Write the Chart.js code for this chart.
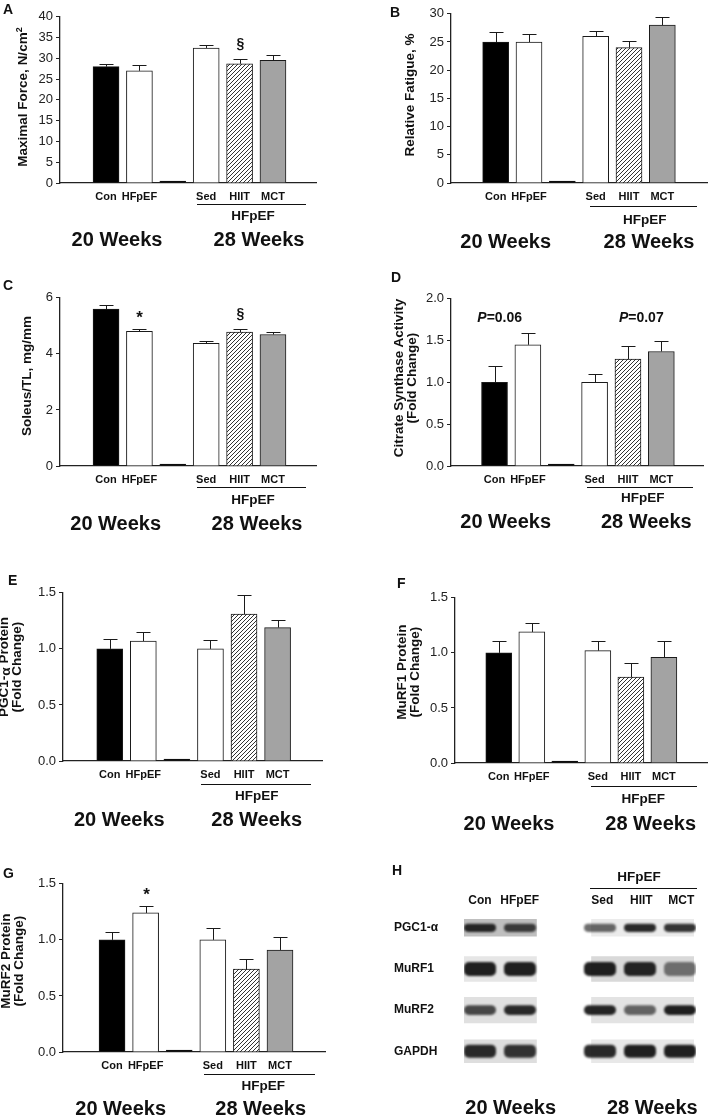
<!DOCTYPE html>
<html>
<head>
<meta charset="utf-8">
<script src="https://cdn.jsdelivr.net/npm/chart.js@4.4.1/dist/chart.umd.min.js"></script>
<style>
  html, body { margin: 0; background: #fff; }
  body { width: 709px; height: 1115px; position: relative; overflow: hidden;
         font-family: "Liberation Sans", Arial, sans-serif; color: #111; }
  canvas { position: absolute; }
  .t { position: absolute; white-space: nowrap; font-weight: bold; line-height: 1;
       transform: translate(-50%, -50%); }
  .ytitle { position: absolute; white-space: nowrap; font-weight: bold; font-size: 13.5px;
            line-height: 13px; text-align: center;
            transform: translate(-50%, -50%) rotate(-90deg); }
  .ytitle sup { font-size: 9px; line-height: 0; vertical-align: 5px; }
  .letter { position: absolute; font-weight: bold; font-size: 14px; line-height: 1; }
  .rule { position: absolute; height: 0; border-top: 1.5px solid #111; }
</style>
</head>
<body>
<script>
// ---- data ----
const groups = ['Con', 'HFpEF', '', 'Sed', 'HIIT', 'MCT'];

const forceMean = [28.0, 27.0, 0, 32.5, 28.7, 29.5];
const forceErr  = [0.6, 1.3, 0, 0.8, 1.1, 1.3];
const forceMarks = ['', '', '', '', '§', ''];
const forceTicks = [0, 5, 10, 15, 20, 25, 30, 35, 40];

const fatigueMean = [25.0, 25.0, 0, 26.0, 24.0, 28.0];
const fatigueErr  = [1.8, 1.5, 0, 1.0, 1.1, 1.4];
const fatigueTicks = [0, 5, 10, 15, 20, 25, 30];

const soleusMean = [5.60, 4.80, 0, 4.38, 4.78, 4.69];
const soleusErr  = [0.13, 0.09, 0, 0.09, 0.11, 0.09];
const soleusMarks = ['', '*', '', '', '§', ''];
const soleusTicks = [0, 2, 4, 6];

const csMean = [1.00, 1.45, 0, 1.00, 1.28, 1.37];
const csErr  = [0.20, 0.14, 0, 0.10, 0.15, 0.12];
const csTicks = [0, 0.5, 1.0, 1.5, 2.0];

const pgcMean = [1.00, 1.07, 0, 1.00, 1.31, 1.19];
const pgcErr  = [0.09, 0.08, 0, 0.08, 0.17, 0.07];

const murf1Mean = [1.00, 1.19, 0, 1.02, 0.78, 0.96];
const murf1Err  = [0.11, 0.08, 0, 0.09, 0.13, 0.15];

const murf2Mean = [1.00, 1.24, 0, 1.00, 0.74, 0.91];
const murf2Err  = [0.07, 0.06, 0, 0.11, 0.09, 0.12];
const murf2Marks = ['', '*', '', '', '', ''];

const foldTicks = [0, 0.5, 1.0, 1.5];

// western blot (panel H): band darkness per lane, rows top to bottom
const blotRows = ['PGC1-α', 'MuRF1', 'MuRF2', 'GAPDH'];
const blotLanes = [0, 1, 3, 4, 5];
const conBands   = [0.90, 0.95, 0.75, 0.90];
const hfpefBands = [0.78, 0.95, 0.90, 0.85];
const sedBands   = [0.62, 0.95, 0.92, 0.90];
const hiitBands  = [0.90, 0.93, 0.62, 0.95];
const mctBands   = [0.85, 0.55, 0.95, 0.95];
const leftShade  = [0.75, 0.90, 0.88, 0.87];
const rightShade = [0.92, 0.85, 0.89, 0.91];

// ---- helpers ----
const FONT = '"Liberation Sans", Arial, sans-serif';
Chart.defaults.font.family = FONT;

const errorBars = {
  id: 'errorBars',
  afterDatasetsDraw(chart) {
    const ctx = chart.ctx, ys = chart.scales.y;
    chart.data.datasets.forEach((ds, di) => {
      if (!ds.errors) return;
      chart.getDatasetMeta(di).data.forEach((bar, i) => {
        const err = ds.errors[i];
        if (!err) return;
        const top = Math.round(ys.getPixelForValue(ds.data[i].y + err)) + 0.5;
        const x = Math.round(bar.x) + 0.5;
        ctx.save();
        ctx.strokeStyle = '#1a1a1a';
        ctx.lineWidth = 1;
        ctx.beginPath();
        ctx.moveTo(x, bar.y);
        ctx.lineTo(x, top);
        ctx.moveTo(x - 7, top);
        ctx.lineTo(x + 7, top);
        ctx.stroke();
        const m = ds.marks && ds.marks[i];
        if (m) {
          ctx.fillStyle = '#111';
          ctx.textAlign = 'center';
          ctx.textBaseline = 'middle';
          ctx.font = 'bold ' + (m === '*' ? 17 : 14) + 'px ' + FONT;
          ctx.fillText(m, x, top - (m === '*' ? 11 : 15));
        }
        ctx.restore();
      });
    });
  }
};

function hatchFor(ctx) {
  const c = document.createElement('canvas');
  c.width = 4; c.height = 4;
  const g = c.getContext('2d');
  g.fillStyle = '#fff';
  g.fillRect(0, 0, 4, 4);
  g.strokeStyle = '#333';
  g.lineWidth = 1;
  g.beginPath();
  g.moveTo(0, 4); g.lineTo(4, 0);
  g.moveTo(-1, 1); g.lineTo(1, -1);
  g.moveTo(3, 5); g.lineTo(5, 3);
  g.stroke();
  return ctx.createPattern(c, 'repeat');
}

function addCanvas(left, top, w, h) {
  const cv = document.createElement('canvas');
  cv.width = w; cv.height = h;
  cv.style.left = left + 'px'; cv.style.top = top + 'px';
  cv.style.width = w + 'px'; cv.style.height = h + 'px';
  document.body.appendChild(cv);
  return cv;
}

function barPanel(box, means, errs, ticks, dec, marks) {
  const padTop = 10, padRight = 4, axisW = 60, axisH = 28;
  const w = box.x1 - box.x0 + axisW + padRight;
  const h = box.y1 - box.y0 + padTop + axisH;
  const cv = addCanvas(box.x0 - axisW, box.y0 - padTop, w, h);
  const fills = ['#000000', '#ffffff', '#000000', '#ffffff', hatchFor(cv.getContext('2d')), '#a3a3a3'];
  new Chart(cv, {
    type: 'bar',
    data: {
      datasets: [{
        data: means.map((v, i) => ({ x: i, y: v })),
        errors: errs,
        marks: marks,
        backgroundColor: fills,
        borderColor: '#1a1a1a',
        borderWidth: 1,
        barThickness: 26,
        minBarLength: 2
      }]
    },
    options: {
      responsive: false,
      animation: false,
      devicePixelRatio: 1,
      layout: { padding: { top: padTop, right: padRight, left: 0, bottom: 0 } },
      plugins: { legend: { display: false }, tooltip: { enabled: false } },
      scales: {
        x: {
          type: 'linear', min: box.xmin, max: box.xmax,
          grid: { display: false, drawTicks: false },
          border: { color: '#222', width: 1.3 },
          afterBuildTicks: s => { s.ticks = groups.map((g, i) => ({ value: i })); },
          afterFit: s => { s.height = axisH; },
          ticks: {
            callback: v => groups[v],
            font: { size: 11, weight: 'bold' }, color: '#111',
            padding: 7, maxRotation: 0, autoSkip: false
          }
        },
        y: {
          min: 0, max: ticks[ticks.length - 1],
          afterBuildTicks: s => { s.ticks = ticks.map(v => ({ value: v })); },
          afterFit: s => { s.width = axisW; },
          grid: { display: true, drawOnChartArea: false, drawTicks: true, tickLength: 4, color: '#222' },
          border: { color: '#222', width: 1.3 },
          ticks: { callback: v => v.toFixed(dec), font: { size: 13 }, color: '#222', padding: 3 }
        }
      }
    },
    plugins: [errorBars]
  });
}

function text(html, cx, cy, size) {
  const d = document.createElement('div');
  d.className = 't';
  d.style.left = cx + 'px'; d.style.top = cy + 'px'; d.style.fontSize = size + 'px';
  d.innerHTML = html;
  document.body.appendChild(d);
}
function ytitle(html, cx, cy) {
  const d = document.createElement('div');
  d.className = 'ytitle';
  d.style.left = cx + 'px'; d.style.top = cy + 'px';
  d.innerHTML = html;
  document.body.appendChild(d);
}
function letter(s, x, y) {
  const d = document.createElement('div');
  d.className = 'letter';
  d.style.left = x + 'px'; d.style.top = y + 'px';
  d.textContent = s;
  document.body.appendChild(d);
}
function rule(x0, x1, y) {
  const d = document.createElement('div');
  d.className = 'rule';
  d.style.left = x0 + 'px'; d.style.top = y + 'px'; d.style.width = (x1 - x0) + 'px';
  document.body.appendChild(d);
}
function footer(f) {
  rule(f.r0, f.r1, f.ry);
  text('HFpEF', f.hx, f.hy, 13.5);
  text('20 Weeks', f.w20, f.wy, 20);
  text('28 Weeks', f.w28, f.wy, 20);
}

// ---- panels A-G ----
barPanel({ x0: 60, y0: 16, x1: 316, y1: 183, xmin: -0.74, xmax: 5.65 }, forceMean, forceErr, forceTicks, 0, forceMarks);
barPanel({ x0: 451, y0: 13, x1: 707, y1: 183, xmin: -0.70, xmax: 5.70 }, fatigueMean, fatigueErr, fatigueTicks, 0, null);
barPanel({ x0: 60, y0: 297, x1: 316, y1: 466, xmin: -0.74, xmax: 5.65 }, soleusMean, soleusErr, soleusTicks, 0, soleusMarks);
barPanel({ x0: 451, y0: 298, x1: 703, y1: 466, xmin: -0.675, xmax: 5.62 }, csMean, csErr, csTicks, 1, null);
barPanel({ x0: 63, y0: 592, x1: 322, y1: 761, xmin: -0.75, xmax: 5.68 }, pgcMean, pgcErr, foldTicks, 1, null);
barPanel({ x0: 455, y0: 597, x1: 707, y1: 763, xmin: -0.69, xmax: 5.67 }, murf1Mean, murf1Err, foldTicks, 1, null);
barPanel({ x0: 63, y0: 883, x1: 325, y1: 1052, xmin: -0.81, xmax: 5.69 }, murf2Mean, murf2Err, foldTicks, 1, murf2Marks);

letter('A', 3, 2); letter('B', 390, 5); letter('C', 3, 278); letter('D', 391, 270);
letter('E', 8, 573); letter('F', 397, 576); letter('G', 3, 866); letter('H', 392, 863);

ytitle('Maximal Force, N/cm<sup>2</sup>', 22, 97);
ytitle('Relative Fatigue, %', 408.5, 95);
ytitle('Soleus/TL, mg/mm', 26, 376);
ytitle('Citrate Synthase Activity<br>(Fold Change)', 405, 378);
ytitle('PGC1-<span style="position:relative;top:2px">α</span> Protein<br>(Fold Change)', 10, 667);
ytitle('MuRF1 Protein<br>(Fold Change)', 408, 672);
ytitle('MuRF2 Protein<br>(Fold Change)', 12, 961);

text('<i>P</i>=0.06', 499.7, 316.7, 14);
text('<i>P</i>=0.07', 641.3, 316.7, 14);

footer({ r0: 197, r1: 306, ry: 203.5, hx: 253, hy: 216, w20: 117, w28: 259, wy: 239 });
footer({ r0: 590, r1: 697, ry: 206, hx: 644.7, hy: 220, w20: 505.7, w28: 649, wy: 240.7 });
footer({ r0: 197, r1: 306, ry: 486.5, hx: 253, hy: 500, w20: 115.7, w28: 257, wy: 522.7 });
footer({ r0: 587, r1: 693, ry: 486.5, hx: 642.7, hy: 498.3, w20: 505.7, w28: 646.3, wy: 520.7 });
footer({ r0: 201, r1: 311, ry: 783.5, hx: 256.7, hy: 796, w20: 119.3, w28: 256.7, wy: 819.3 });
footer({ r0: 591, r1: 697, ry: 785.5, hx: 643.3, hy: 799.3, w20: 509, w28: 650.7, wy: 823.3 });
footer({ r0: 204, r1: 315, ry: 1073.5, hx: 263.3, hy: 1085.7, w20: 120.7, w28: 260.7, wy: 1108.3 });

// ---- panel H: western blot ----
(function () {
  const bands = [conBands, hfpefBands, sedBands, hiitBands, mctBands];
  const boxPct = [0.43, 0.62, 0.64, 0.57];
  const bandPct = [0.20, 0.34, 0.24, 0.32];
  const datasets = [];
  blotRows.forEach((r, ri) => {
    const only = v => blotRows.map((_, k) => (k === ri ? v : null));
    const gray = s => { const c = Math.round(s * 255); return `rgb(${c},${c},${c})`; };
    datasets.push({ data: only([-0.4, 1.42]), backgroundColor: gray(leftShade[ri]), barPercentage: boxPct[ri], order: 2 });
    datasets.push({ data: only([2.78, 5.35]), backgroundColor: gray(rightShade[ri]), barPercentage: boxPct[ri], order: 2 });
    blotLanes.forEach((lane, li) => {
      datasets.push({
        data: only([lane - 0.4, lane + 0.4]),
        backgroundColor: `rgba(20,20,20,${bands[li][ri]})`,
        barPercentage: bandPct[ri], borderRadius: 5, borderSkipped: false,
        band: true, order: 1
      });
    });
  });
  const blur = {
    id: 'blur',
    beforeDatasetDraw(chart, args) {
      if (chart.data.datasets[args.index].band) { chart.ctx.save(); chart.ctx.filter = 'blur(1.3px)'; }
    },
    afterDatasetDraw(chart, args) {
      if (chart.data.datasets[args.index].band) chart.ctx.restore();
    }
  };
  const cv = addCanvas(390, 900, 306, 179);
  new Chart(cv, {
    type: 'bar',
    data: { labels: blotRows, datasets: datasets },
    options: {
      indexAxis: 'y',
      responsive: false,
      animation: false,
      devicePixelRatio: 1,
      datasets: { bar: { grouped: false, categoryPercentage: 1 } },
      layout: { padding: { top: 4, left: 4, right: 0, bottom: 0 } },
      plugins: { legend: { display: false }, tooltip: { enabled: false } },
      scales: {
        x: { type: 'linear', min: -0.4, max: 5.4, display: false },
        y: {
          grid: { display: false }, border: { display: false },
          afterFit: s => { s.width = 70; },
          ticks: { crossAlign: 'far', font: { size: 12, weight: 'bold' }, color: '#111', padding: 0 }
        }
      }
    },
    plugins: [blur]
  });
  text('HFpEF', 639, 876.7, 13.5);
  rule(590, 697, 887.5);
  const colX = [480, 519.7, 602.3, 641.3, 681.3];
  ['Con', 'HFpEF', 'Sed', 'HIIT', 'MCT'].forEach((s, i) => text(s, colX[i], 900, 12));
  text('20 Weeks', 510.7, 1107.3, 20);
  text('28 Weeks', 652.3, 1107.3, 20);
})();
</script>
</body>
</html>
